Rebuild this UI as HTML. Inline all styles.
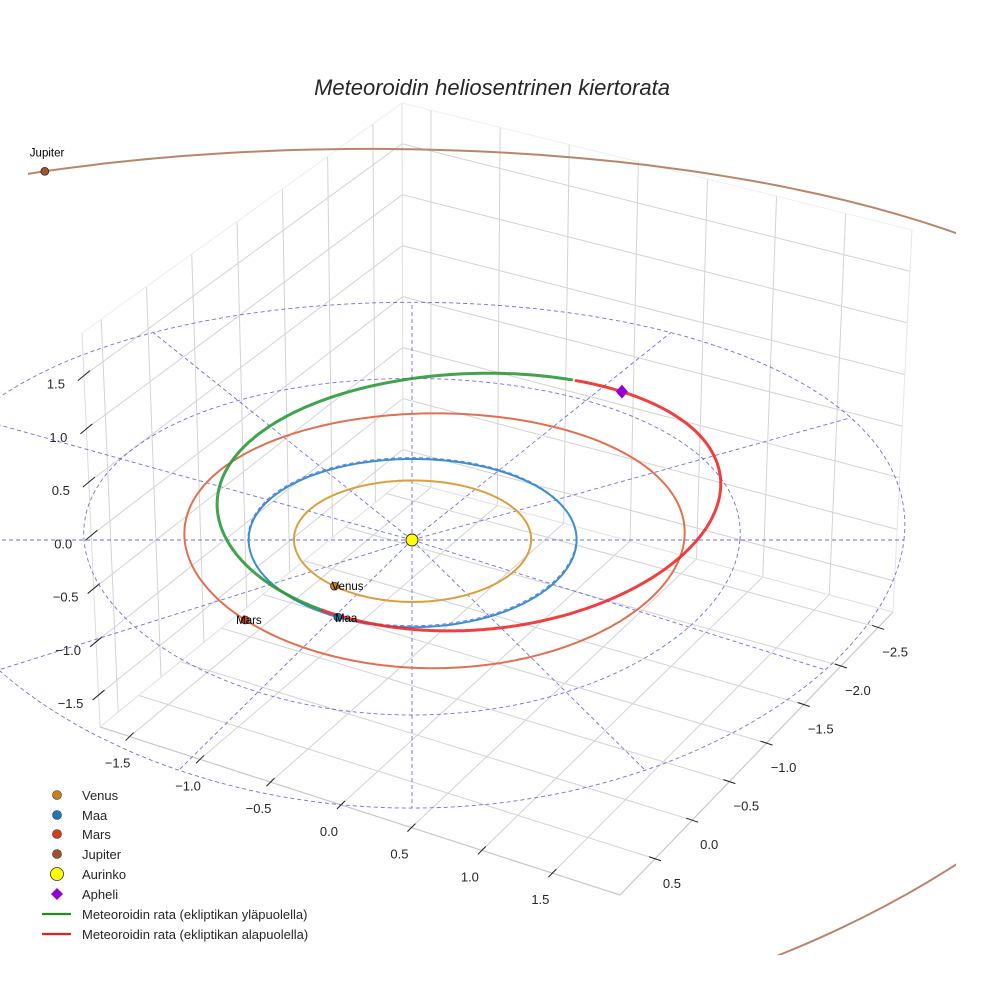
<!DOCTYPE html>
<html><head><meta charset="utf-8"><style>
html,body{margin:0;padding:0;background:#fff;width:984px;height:984px;overflow:hidden}
svg{display:block;font-family:"Liberation Sans",sans-serif;overflow:hidden}
</style></head><body>
<svg id="chart" width="984" height="984" viewBox="0 0 984 984" xmlns="http://www.w3.org/2000/svg">
<defs><clipPath id="axclip"><rect x="28" y="0" width="928" height="955"/></clipPath></defs>
<rect width="984" height="984" fill="#fff"/>
<g id="box"></g>
<g id="ecl"></g>
<g id="orbits" clip-path="url(#axclip)"></g>
<g id="marks"></g>
<text x="492" y="95" text-anchor="middle" font-size="22" font-style="italic" fill="#262626">Meteoroidin heliosentrinen kiertorata</text>
<g id="legend" font-size="13" fill="#262626">
 <circle cx="57" cy="795" r="4.5" fill="#c8801a" stroke="#333" stroke-width="0.6"/>
 <text x="82" y="800">Venus</text>
 <circle cx="57" cy="815" r="4.5" fill="#1f77b4" stroke="#333" stroke-width="0.6"/>
 <text x="82" y="820">Maa</text>
 <circle cx="57" cy="834" r="4.5" fill="#d0401a" stroke="#333" stroke-width="0.6"/>
 <text x="82" y="839">Mars</text>
 <circle cx="57" cy="854" r="4.5" fill="#a0522d" stroke="#333" stroke-width="0.6"/>
 <text x="82" y="859">Jupiter</text>
 <circle cx="57" cy="874" r="6.5" fill="#ffff00" stroke="#333" stroke-width="0.8"/>
 <text x="82" y="879">Aurinko</text>
 <path d="M57 888 L63 894 L57 900 L51 894 Z" fill="#9400d3"/>
 <text x="82" y="899">Apheli</text>
 <line x1="42" y1="914" x2="71" y2="914" stroke="#228b22" stroke-width="2.2"/>
 <text x="82" y="919">Meteoroidin rata (ekliptikan yläpuolella)</text>
 <line x1="42" y1="934" x2="71" y2="934" stroke="#e82020" stroke-width="2.2"/>
 <text x="82" y="939">Meteoroidin rata (ekliptikan alapuolella)</text>
</g>
</svg>
<script>
const xTicks=[-1.5,-1.0,-0.5,0.0,0.5,1.0,1.5];
const xTickLabels=["−1.5","−1.0","−0.5","0.0","0.5","1.0","1.5"];
const yTicks=[0.5,0.0,-0.5,-1.0,-1.5,-2.0,-2.5];
const yTickLabels=["0.5","0.0","−0.5","−1.0","−1.5","−2.0","−2.5"];
const zTicks=[-1.5,-1.0,-0.5,0.0,0.5,1.0,1.5];
const zTickLabels=["−1.5","−1.0","−0.5","0.0","0.5","1.0","1.5"];
const xLim=[-1.71,1.98], yLim=[-2.70,0.97], zLim=[-1.8,1.9];
const planetNames=["Venus","Maa","Mars","Jupiter"];
const planetA=[0.723,1.0,1.524,5.2];
const planetE=[0.007,0.017,0.093,0.048];
const planetPeri=[131,103,195,14];
const planetLon=[228.7,243,222,113];
const meteorA=[1.6];
const meteorE=[0.38];
const meteorPeri=[236];
const meteorSplit=[188.7];
const gridRadii=[1,2,3];
const rayAngles=[0,30,60,90,120,150,180,210,240,270,300,330];

const NS="http://www.w3.org/2000/svg";
function mk(tag,attrs,parent){const e=document.createElementNS(NS,tag);for(const k in attrs)e.setAttribute(k,attrs[k]);parent.appendChild(e);return e;}
const L=[100,727],F=[620,895],R=[893,612],B=[403,480],Lt=[82,333],Bt=[402,103],Rt=[912,230];
const lerp=(a,b,t)=>[a[0]+(b[0]-a[0])*t,a[1]+(b[1]-a[1])*t];
const fx=x=>(x-xLim[0])/(xLim[1]-xLim[0]);
const fy=y=>(yLim[1]-y)/(yLim[1]-yLim[0]);
const fyW=y=>0.06+(0.5-y)*0.283;
const fz=z=>(z-zLim[0])/(zLim[1]-zLim[0]);
const box=document.getElementById('box');
function ln(p,q,c,w,name){const e=mk('line',{x1:p[0],y1:p[1],x2:q[0],y2:q[1],stroke:c,'stroke-width':w},box);

return e;}
const gc="#d3d3d3";
yTicks.forEach(y=>{const t=fyW(y);ln(lerp(L,B,t),lerp(Lt,Bt,t),gc,1,'left-wall-gridline');});
zTicks.forEach(z=>{const t=fz(z);ln(lerp(L,Lt,t),lerp(B,Bt,t),gc,1,'left-wall-gridline');});
xTicks.forEach(x=>{const t=fx(x);ln(lerp(B,R,t),lerp(Bt,Rt,t),gc,1,'right-wall-gridline');});
zTicks.forEach(z=>{const t=fz(z);ln(lerp(B,Bt,t),lerp(R,Rt,t),gc,1,'right-wall-gridline');});
xTicks.forEach(x=>{const t=fx(x);ln(lerp(L,F,t),lerp(B,R,t),gc,1,'floor-gridline');});
yTicks.forEach(y=>{const t=fy(y);ln(lerp(L,B,t),lerp(F,R,t),gc,1,'floor-gridline');});
ln(L,F,"#c8c8c8",1.2,'x-axis-line');ln(F,R,"#c8c8c8",1.2,'y-axis-line');
ln(L,Lt,"#dcdcdc",1,'z-axis-line');ln(R,Rt,"#e6e6e6",1,'right-edge');
ln(Lt,Bt,"#eeeeee",1,'top-edge');ln(Bt,Rt,"#eeeeee",1,'top-edge');ln(B,Bt,"#e0e0e0",1,'back-edge');
ln(L,B,"#e0e0e0",1,'floor-back-edge');ln(B,R,"#e0e0e0",1,'floor-back-edge');
function tx(p,s,name,anchor){const e=mk('text',{x:p[0],y:p[1],'font-size':13,fill:'#262626','text-anchor':anchor||'middle'},box);e.textContent=s;

}
xTicks.forEach((x,i)=>{const p=lerp(L,F,fx(x));ln([p[0]-4,p[1]+4],[p[0]+4,p[1]-4],"#222",1,'x-tick');tx([p[0]-12,p[1]+31],xTickLabels[i],'x-tick-label');});
yTicks.forEach((y,i)=>{const p=lerp(F,R,fy(y));ln([p[0]-6,p[1]-2],[p[0]+6,p[1]+2],"#222",1,'y-tick');tx([p[0]+17,p[1]+29],yTickLabels[i],'y-tick-label');});
zTicks.forEach((z,i)=>{const p=lerp(L,Lt,fz(z));ln([p[0]-6,p[1]+5],[p[0]+6,p[1]-5],"#222",1,'z-tick');tx([p[0]-28,p[1]+13],zTickLabels[i],'z-tick-label');});

function proj(x,y){return [412+164*x*(1+0.02*y),540-84*y/(1+0.02*y)];}
function pathFrom(pts){return pts.map((p,i)=>(i?'L':'M')+p[0].toFixed(1)+' '+p[1].toFixed(1)).join(' ');}
const ecl=document.getElementById('ecl');
gridRadii.forEach(r=>{const pts=[];for(let t=0;t<=360;t+=2){const a=t*Math.PI/180;pts.push(proj(r*Math.cos(a),r*Math.sin(a)));}
const e=mk('path',{d:pathFrom(pts),fill:'none',stroke:'#4b4bdc','stroke-width':0.9,'stroke-dasharray':'4 3',opacity:0.8},ecl);

});
rayAngles.forEach(d=>{const a=d*Math.PI/180,r=gridRadii[gridRadii.length-1];const p=proj(0,0),q=proj(r*Math.cos(a),r*Math.sin(a));
const e=mk('line',{x1:p[0],y1:p[1],x2:q[0],y2:q[1],stroke:'#4b4bdc','stroke-width':0.9,'stroke-dasharray':'4 3',opacity:0.8},ecl);

});

const orbits=document.getElementById('orbits');
const orbitColors=["#d9a040","#3a8fd0","#e07050","#b8866a"];
const dotColors=["#c8801a","#1f77b4","#d0401a","#a0522d"];
function conicR(a,e,nu){return a*(1-e*e)/(1+e*Math.cos(nu*Math.PI/180));}
planetNames.forEach((n,i)=>{const pts=[];for(let t=0;t<=360;t+=1){const r=conicR(planetA[i],planetE[i],t-planetPeri[i]);const a=t*Math.PI/180;pts.push(proj(r*Math.cos(a),r*Math.sin(a)));}
const e=mk('path',{d:pathFrom(pts),fill:'none',stroke:orbitColors[i],'stroke-width':2},orbits);

});
function meteorArc(n0,n1,col,name){const pts=[];for(let nu=n0;nu<=n1+0.001;nu+=1){const r=conicR(meteorA[0],meteorE[0],nu);const a=(nu+meteorPeri[0])*Math.PI/180;pts.push(proj(r*Math.cos(a),r*Math.sin(a)));}
const e=mk('path',{d:pathFrom(pts),fill:'none',stroke:col,'stroke-width':3,'stroke-linecap':'round',opacity:0.9},orbits);

}
meteorArc(meteorSplit[0],360,'#2a9a38','meteoroid-orbit-above');
meteorArc(0,meteorSplit[0],'#ee2a2a','meteoroid-orbit-below');

const marks=document.getElementById('marks');
const sun=proj(0,0);
let s=mk('circle',{cx:sun[0],cy:sun[1],r:6,fill:'#ffff00',stroke:'#222','stroke-width':0.9},marks);


const labOff=[[-3,4],[-3,5],[-9,4],[-15,-15]];
planetNames.forEach((n,i)=>{const r=conicR(planetA[i],planetE[i],planetLon[i]-planetPeri[i]);const a=planetLon[i]*Math.PI/180;const p=proj(r*Math.cos(a),r*Math.sin(a));
const c=mk('circle',{cx:p[0],cy:p[1],r:4,fill:dotColors[i],stroke:'#222','stroke-width':0.7},marks);


const t=mk('text',{x:p[0]+labOff[i][0],y:p[1]+labOff[i][1],'font-size':11.5,fill:'#000'},marks);t.textContent=n;

});
{const r=conicR(meteorA[0],meteorE[0],180);const a=(180+meteorPeri[0])*Math.PI/180;const p=proj(r*Math.cos(a),r*Math.sin(a));
const d=mk('path',{d:`M${p[0]} ${p[1]-7} L${p[0]+6} ${p[1]} L${p[0]} ${p[1]+7} L${p[0]-6} ${p[1]} Z`,fill:'#9400d3'},marks);

}
</script>
</body></html>
